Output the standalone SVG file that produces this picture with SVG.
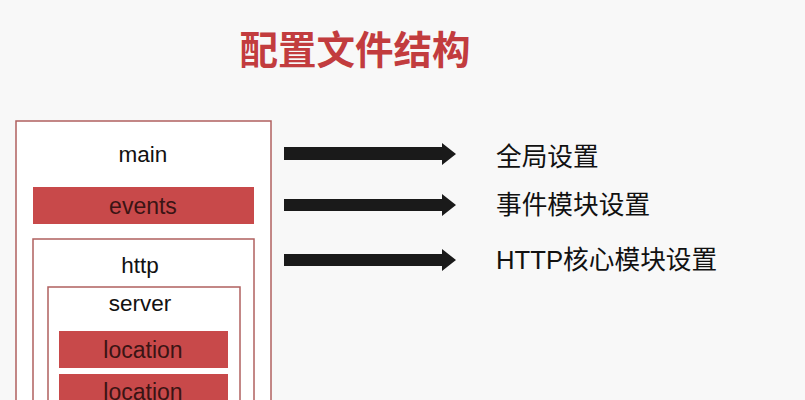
<svg xmlns="http://www.w3.org/2000/svg" width="805" height="400" viewBox="0 0 805 400">
<style>
.box{fill:#ffffff;stroke:#b0605f;stroke-width:1.5}
.red{fill:#c8494a}
.lbl{font-family:"Liberation Sans",Arial,sans-serif;font-size:22.5px;fill:#111;text-anchor:middle}
.lblr{font-family:"Liberation Sans",Arial,sans-serif;font-size:23px;fill:#3a1414;text-anchor:middle}
.cn{font-family:"Liberation Sans","Noto Sans CJK SC",sans-serif;font-size:25.7px;fill:#111}
.arrow{fill:#1a1a1a}
</style>
<rect width="805" height="400" fill="#f8f8f8"/>
<text x="355" y="64" font-family="'Noto Sans CJK SC',sans-serif" font-weight="bold" font-size="38.5" fill="#c23c3e" text-anchor="middle">配置文件结构</text>
<g id="main">
<rect class="box" x="16" y="121" width="255" height="300"/>
<text class="lbl" x="143" y="162">main</text>
</g>
<g id="events">
<rect class="red" x="33" y="187" width="221" height="37"/>
<text class="lblr" x="143" y="214">events</text>
</g>
<g id="http">
<rect class="box" x="33" y="239" width="221" height="200"/>
<text class="lbl" x="140" y="273">http</text>
</g>
<g id="server">
<rect class="box" x="48" y="287" width="192" height="150"/>
<text class="lbl" x="140" y="311">server</text>
</g>
<g id="location1">
<rect class="red" x="59" y="331" width="169" height="37"/>
<text class="lblr" x="143" y="358">location</text>
</g>
<g id="location2">
<rect class="red" x="59" y="374" width="169" height="37"/>
<text class="lblr" x="143" y="400">location</text>
</g>
<g id="connectors">
<polygon class="arrow" points="284,147 442,147 442,143 456,154 442,165 442,160 284,160"/>
<polygon class="arrow" points="284,199 442,199 442,194 456,205 442,216 442,211 284,211"/>
<polygon class="arrow" points="284,254 442,254 442,249 456,260 442,271 442,266 284,266"/>
</g>
<g id="label1"><text class="cn" x="496" y="166">全局设置</text></g>
<g id="label2"><text class="cn" x="496" y="214">事件模块设置</text></g>
<g id="label3"><text class="cn" x="496" y="269">HTTP核心模块设置</text></g>
</svg>
